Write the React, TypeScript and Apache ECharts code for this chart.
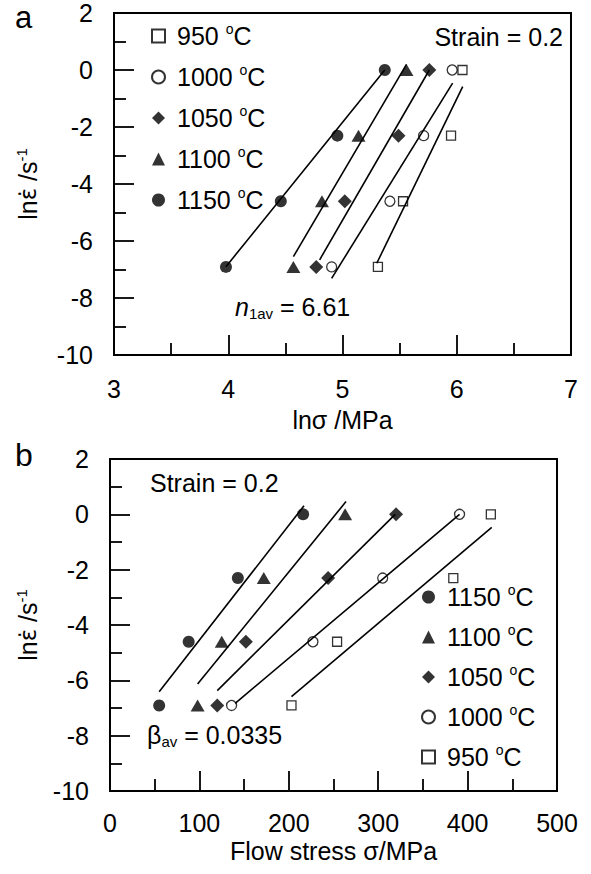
import React, { useEffect, useRef } from "react";
import * as echarts from "echarts";

const FONT = "'Liberation Sans', Arial, Helvetica, sans-serif";
const FS = 25;

// Temperatures (°C)
const temps = ["950", "1000", "1050", "1100", "1150"];
// ln(strain rate) levels (0.001, 0.01, 0.1, 1 s^-1)
const lnRate = [-6.908, -4.605, -2.303, 0];

// Panel a: ln(sigma / MPa)
const lnSigma950 = [5.31, 5.53, 5.95, 6.05];
const lnSigma1000 = [4.905, 5.415, 5.71, 5.96];
const lnSigma1050 = [4.77, 5.02, 5.49, 5.76];
const lnSigma1100 = [4.57, 4.82, 5.14, 5.56];
const lnSigma1150 = [3.98, 4.46, 4.955, 5.37];

// Panel a fit lines (start/end)
const fitA950X = [5.3, 6.052];
const fitA950Y = [-6.78, -0.58];
const fitA1000X = [4.905, 5.964];
const fitA1000Y = [-7.31, -0.46];
const fitA1050X = [4.8, 5.76];
const fitA1050Y = [-6.66, 0];
const fitA1100X = [4.57, 5.56];
const fitA1100Y = [-6.55, 0.2];
const fitA1150X = [3.98, 5.37];
const fitA1150Y = [-6.9, 0];

// Panel b: flow stress (MPa)
const stress950 = [203, 254, 384, 426];
const stress1000 = [136, 227, 305, 391];
const stress1050 = [120, 152, 244, 320];
const stress1100 = [98, 125, 172, 263];
const stress1150 = [55, 88, 143, 216];

// Panel b fit lines (start/end)
const fitB950X = [203, 427];
const fitB950Y = [-6.59, -0.47];
const fitB1000X = [140, 391];
const fitB1000Y = [-6.83, 0];
const fitB1050X = [120, 319];
const fitB1050Y = [-6.37, 0];
const fitB1100X = [98, 264];
const fitB1100Y = [-6.13, 0.46];
const fitB1150X = [55, 217];
const fitB1150Y = [-6.41, 0.31];

const panelA: Record<string, number[]> = {
  "950": lnSigma950,
  "1000": lnSigma1000,
  "1050": lnSigma1050,
  "1100": lnSigma1100,
  "1150": lnSigma1150,
};
const panelB: Record<string, number[]> = {
  "950": stress950,
  "1000": stress1000,
  "1050": stress1050,
  "1100": stress1100,
  "1150": stress1150,
};
const fitsA: Record<string, number[][]> = {
  "950": [fitA950X, fitA950Y],
  "1000": [fitA1000X, fitA1000Y],
  "1050": [fitA1050X, fitA1050Y],
  "1100": [fitA1100X, fitA1100Y],
  "1150": [fitA1150X, fitA1150Y],
};
const fitsB: Record<string, number[][]> = {
  "950": [fitB950X, fitB950Y],
  "1000": [fitB1000X, fitB1000Y],
  "1050": [fitB1050X, fitB1050Y],
  "1100": [fitB1100X, fitB1100Y],
  "1150": [fitB1150X, fitB1150Y],
};

const markerStyle: Record<string, any> = {
  "950": { symbol: "rect", symbolSize: 9, hollow: true },
  "1000": { symbol: "circle", symbolSize: 10, hollow: true },
  "1050": { symbol: "diamond", symbolSize: 14, hollow: false },
  "1100": { symbol: "triangle", symbolSize: [14, 12], hollow: false },
  "1150": { symbol: "circle", symbolSize: 12, hollow: false },
};

function scatterSeries(t: string, xs: number[], axis: number) {
  const m = markerStyle[t];
  return {
    type: "scatter",
    name: t,
    xAxisIndex: axis,
    yAxisIndex: axis,
    symbol: m.symbol,
    symbolSize: m.symbolSize,
    itemStyle: m.hollow
      ? { color: "rgba(255,255,255,0)", borderColor: "#000", borderWidth: 1.3 }
      : { color: "#000", borderColor: "#000", borderWidth: 0 },
    data: xs.map((x, i) => [x, lnRate[i]]),
    z: 2,
  };
}

function fitSeries(t: string, xy: number[][], axis: number) {
  return {
    type: "line",
    name: "fit" + axis + "-" + t,
    xAxisIndex: axis,
    yAxisIndex: axis,
    symbol: "none",
    silent: true,
    lineStyle: { color: "#000", width: 1.6 },
    data: xy[0].map((x, i) => [x, xy[1][i]]),
    z: 3,
  };
}

const tickCommon = {
  axisLine: { show: true, onZero: false, lineStyle: { color: "#000", width: 2 } },
  axisTick: { show: true, inside: true, length: 20, lineStyle: { color: "#000", width: 1.8 } },
  minorTick: { show: true, splitNumber: 2, length: 12, lineStyle: { color: "#000", width: 1.8 } },
  splitLine: { show: false },
  minorSplitLine: { show: false },
};

const supRich = {
  sup: { fontSize: 14, lineHeight: 14, verticalAlign: "top", fontFamily: FONT, color: "#000" },
};

function yAxis(grid: number, gap: number) {
  return {
    type: "value",
    gridIndex: grid,
    min: -10,
    max: 2,
    interval: 2,
    ...tickCommon,
    axisLabel: { fontSize: FS, color: "#000", fontFamily: FONT, margin: 21 },
    name: "ln{e|\u03b5\u0307} /s{sup|-1}",
    nameLocation: "middle",
    nameGap: gap,
    nameTextStyle: {
      fontSize: FS,
      lineHeight: 28,
      color: "#000",
      fontFamily: FONT,
      rich: {
        e: { fontSize: 23, lineHeight: 28, fontFamily: "'DejaVu Sans', sans-serif", color: "#000" },
        sup: { fontSize: 15, lineHeight: 15, verticalAlign: "top", fontFamily: FONT, color: "#000" },
      },
    },
  };
}

export default function App() {
  const ref = useRef<HTMLDivElement>(null);
  useEffect(() => {
    if (!ref.current) return;
    const chart = echarts.init(ref.current, null, { renderer: "svg" });
    const series: any[] = [];
    temps.forEach((t) => {
      series.push(fitSeries(t, fitsA[t], 0));
      series.push(scatterSeries(t, panelA[t], 0));
    });
    temps.forEach((t) => {
      series.push(fitSeries(t, fitsB[t], 1));
      series.push(scatterSeries(t, panelB[t], 1));
    });
    const legendCommon = {
      orient: "vertical",
      itemWidth: 13,
      itemHeight: 13,
      selectedMode: false,
      formatter: (name: string) => name + " {sup|o}C",
      textStyle: {
        fontSize: FS,
        lineHeight: 28,
        color: "#000",
        fontFamily: FONT,
        padding: [0, 0, 0, 7],
        rich: supRich,
      },
    };
    chart.setOption({
      animation: false,
      backgroundColor: "#fff",
      grid: [
        { left: 114, top: 13, width: 457, height: 342, show: true, borderColor: "#000", borderWidth: 2 },
        { left: 110, top: 459, width: 447, height: 332, show: true, borderColor: "#000", borderWidth: 2 },
      ],
      xAxis: [
        {
          type: "value",
          gridIndex: 0,
          min: 3,
          max: 7,
          interval: 1,
          ...tickCommon,
          axisLabel: { fontSize: FS, color: "#000", fontFamily: FONT, margin: 21 },
          name: "ln\u03c3 /MPa",
          nameLocation: "middle",
          nameGap: 52,
          nameTextStyle: { fontSize: FS, color: "#000", fontFamily: FONT },
        },
        {
          type: "value",
          gridIndex: 1,
          min: 0,
          max: 500,
          interval: 100,
          ...tickCommon,
          axisLabel: { fontSize: FS, color: "#000", fontFamily: FONT, margin: 19 },
          name: "Flow stress \u03c3/MPa",
          nameLocation: "middle",
          nameGap: 47,
          nameTextStyle: { fontSize: FS, color: "#000", fontFamily: FONT },
        },
      ],
      yAxis: [yAxis(0, 72), yAxis(1, 68)],
      legend: [
        { ...legendCommon, data: temps.slice(), left: 146, top: 17, itemGap: 13 },
        { ...legendCommon, data: temps.slice().reverse(), left: 416, top: 578, itemGap: 12 },
      ],
      graphic: [
        {
          type: "text",
          x: 15,
          y: 17,
          style: { text: "a", fontSize: 31, lineHeight: 31, fontFamily: FONT, fill: "#000", verticalAlign: "middle" },
        },
        {
          type: "text",
          x: 15,
          y: 455,
          style: { text: "b", fontSize: 32, lineHeight: 28, fontFamily: FONT, fill: "#000", verticalAlign: "middle" },
        },
        {
          type: "text",
          x: 563,
          y: 37,
          style: { text: "Strain = 0.2", fontSize: FS, fontFamily: FONT, fill: "#000", align: "right", verticalAlign: "middle" },
        },
        {
          type: "text",
          x: 150,
          y: 483,
          style: { text: "Strain = 0.2", fontSize: FS, fontFamily: FONT, fill: "#000", align: "left", verticalAlign: "middle" },
        },
        {
          type: "text",
          x: 235,
          y: 307,
          style: {
            text: "{i|n}{s|1av} = 6.61",
            fontSize: FS,
            lineHeight: 28,
            fontFamily: FONT,
            fill: "#000",
            verticalAlign: "middle",
            rich: {
              i: { fontStyle: "italic", fontSize: FS, lineHeight: 28, fontFamily: FONT, color: "#000" },
              s: { fontSize: 15, lineHeight: 15, verticalAlign: "bottom", fontFamily: FONT, color: "#000" },
            },
          },
        },
        {
          type: "text",
          x: 147,
          y: 735,
          style: {
            text: "\u03b2{s|av} = 0.0335",
            fontSize: FS,
            lineHeight: 28,
            fontFamily: FONT,
            fill: "#000",
            verticalAlign: "middle",
            rich: {
              s: { fontSize: 15, lineHeight: 15, verticalAlign: "bottom", fontFamily: FONT, color: "#000" },
            },
          },
        },
      ],
      series,
    });
    return () => chart.dispose();
  }, []);
  return (
    <div
      ref={ref}
      style={{ position: "absolute", left: 0, top: 0, width: 591, height: 874 }}
    />
  );
}
